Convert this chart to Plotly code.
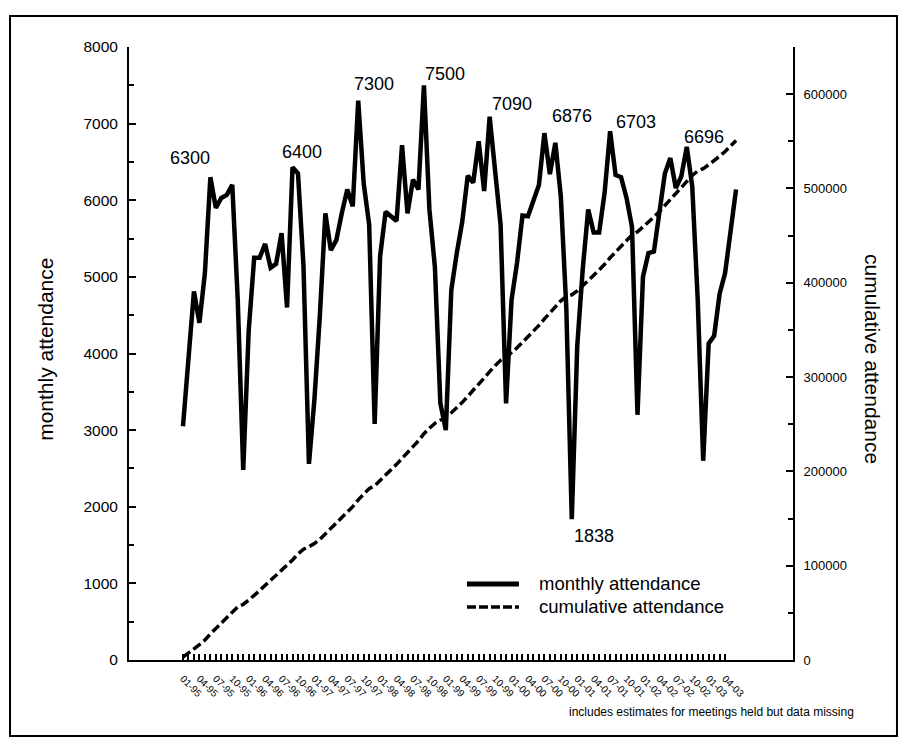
import plotly.graph_objects as go
import numpy as np

FONT = "Liberation Sans, Arial, sans-serif"

# month categories 01-95 .. 06-03
years = ["95", "96", "97", "98", "99", "00", "01", "02", "03"]
months = [f"{m:02d}-{y}" for y in years for m in range(1, 13)][:102]

# monthly attendance
monthly = [
    3050, 3950, 4810, 4400, 5050, 6300, 5900, 6030, 6070, 6200, 4700, 2480,   # 1995
    4300, 5250, 5250, 5430, 5120, 5170, 5570, 4600, 6430, 6350, 5150, 2560,   # 1996
    3400, 4500, 5830, 5350, 5480, 5830, 6140, 5920, 7300, 6220, 5680, 3080,   # 1997
    5270, 5850, 5790, 5730, 6720, 5830, 6270, 6140, 7500, 5880, 5130, 3350,   # 1998
    3000, 4830, 5310, 5720, 6320, 6230, 6770, 6120, 7090, 6400, 5680, 3350,   # 1999
    4700, 5180, 5800, 5790, 6000, 6200, 6876, 6340, 6750, 6050, 4600, 1838,   # 2000
    4100, 5100, 5880, 5580, 5580, 6100, 6900, 6330, 6300, 6030, 5650, 3200,   # 2001
    5000, 5310, 5330, 5870, 6350, 6550, 6160, 6310, 6696, 6180, 4700, 2600,   # 2002
    4130, 4230, 4780, 5050, 5570, 6140,                                       # 2003
]
cumulative = np.cumsum(monthly).tolist()

# tick marks at each month up to 04-03, labels every third month
tick_months = months[:100]
tick_labels = [m if i % 3 == 0 else "" for i, m in enumerate(tick_months)]

# annotated peak values
peak_text = ["6300", "6400", "7300", "7500", "7090", "6876", "6703", "6696", "1838"]
peak_x = [1.3, 21.7, 34.9, 47.85, 60.1, 71.05, 82.7, 95.2, 75.1]
peak_y = [6553, 6632, 7520, 7650, 7258, 7102, 7023, 6828, 1619]

series_names = ["monthly attendance", "cumulative attendance"]

fig = go.Figure()
fig.add_trace(go.Scatter(
    x=months, y=monthly, mode="lines", name=series_names[0],
    line=dict(color="black", width=4.5), yaxis="y", showlegend=False))
fig.add_trace(go.Scatter(
    x=months, y=cumulative, mode="lines", name=series_names[1],
    line=dict(color="black", width=3.5, dash="9px,4px"), yaxis="y2", showlegend=False))

annotations = []
for t, x, y in zip(peak_text, peak_x, peak_y):
    annotations.append(dict(x=x, y=y, xref="x", yref="y", text=t, showarrow=False,
                            xanchor="center", yanchor="middle",
                            font=dict(size=18, color="black", family=FONT)))
annotations += [
    dict(x=-0.125, y=0.506, xref="paper", yref="paper", text="monthly attendance",
         textangle=-90, showarrow=False, xanchor="center", yanchor="middle",
         font=dict(size=21, color="black", family=FONT)),
    dict(x=1.1205, y=0.491, xref="paper", yref="paper", text="cumulative attendance",
         textangle=90, showarrow=False, xanchor="center", yanchor="middle",
         font=dict(size=21, color="black", family=FONT)),
    dict(x=0.878, y=-0.0848, xref="paper", yref="paper",
         text="includes estimates for meetings held but data missing",
         showarrow=False, xanchor="center", yanchor="middle",
         font=dict(size=12, color="black", family=FONT)),
]

# legend drawn as line samples + text
leg_y = [0.124, 0.0865]
leg_styles = [dict(color="black", width=5), dict(color="black", width=3.5, dash="9px,3px")]
shapes = [dict(type="rect", xref="paper", yref="paper",
               x0=-0.1792, x1=1.1566, y0=-0.124, y1=1.0506,
               line=dict(color="black", width=2), fillcolor="rgba(0,0,0,0)")]
for name, ly, st in zip(series_names, leg_y, leg_styles):
    shapes.append(dict(type="line", xref="paper", yref="paper",
                       x0=0.509, x1=0.5873, y0=ly, y1=ly, line=st))
    annotations.append(dict(x=0.6145, y=ly, xref="paper", yref="paper", text=name,
                            showarrow=False, xanchor="left", yanchor="middle",
                            font=dict(size=18.5, color="black", family=FONT)))

fig.update_layout(
    width=890, height=732,
    margin=dict(l=121, r=105, t=39, b=80),
    paper_bgcolor="white", plot_bgcolor="white",
    font=dict(family=FONT, color="black"),
    showlegend=False,
    xaxis=dict(type="category", range=[-9.86, 111.4],
               tickmode="array", tickvals=tick_months, ticktext=tick_labels,
               tickangle=45, ticks="inside", ticklen=6, tickwidth=1.8, tickcolor="black",
               showline=True, linewidth=2, linecolor="black",
               showgrid=False, zeroline=False,
               tickfont=dict(size=10, family=FONT), ticklabelstandoff=7),
    yaxis=dict(range=[0, 8000], dtick=1000, tickformat="d",
               ticks="inside", ticklen=7, tickwidth=2, tickcolor="black",
               minor=dict(ticks="inside", dtick=500, ticklen=5, tickwidth=1.5, tickcolor="black"),
               showline=True, linewidth=2, linecolor="black",
               showgrid=False, zeroline=False,
               tickfont=dict(size=15.5, family=FONT), ticklabelstandoff=6),
    yaxis2=dict(range=[0, 650000], dtick=100000, tickformat="d",
                overlaying="y", side="right", anchor="x",
                ticks="inside", ticklen=7, tickwidth=2, tickcolor="black",
                minor=dict(ticks="inside", dtick=50000, ticklen=5, tickwidth=1.5, tickcolor="black"),
                showline=True, linewidth=2, linecolor="black",
                showgrid=False, zeroline=False,
                tickfont=dict(size=13, family=FONT), ticklabelstandoff=6),
    annotations=annotations,
    shapes=shapes,
)

fig.write_html("out.html")
